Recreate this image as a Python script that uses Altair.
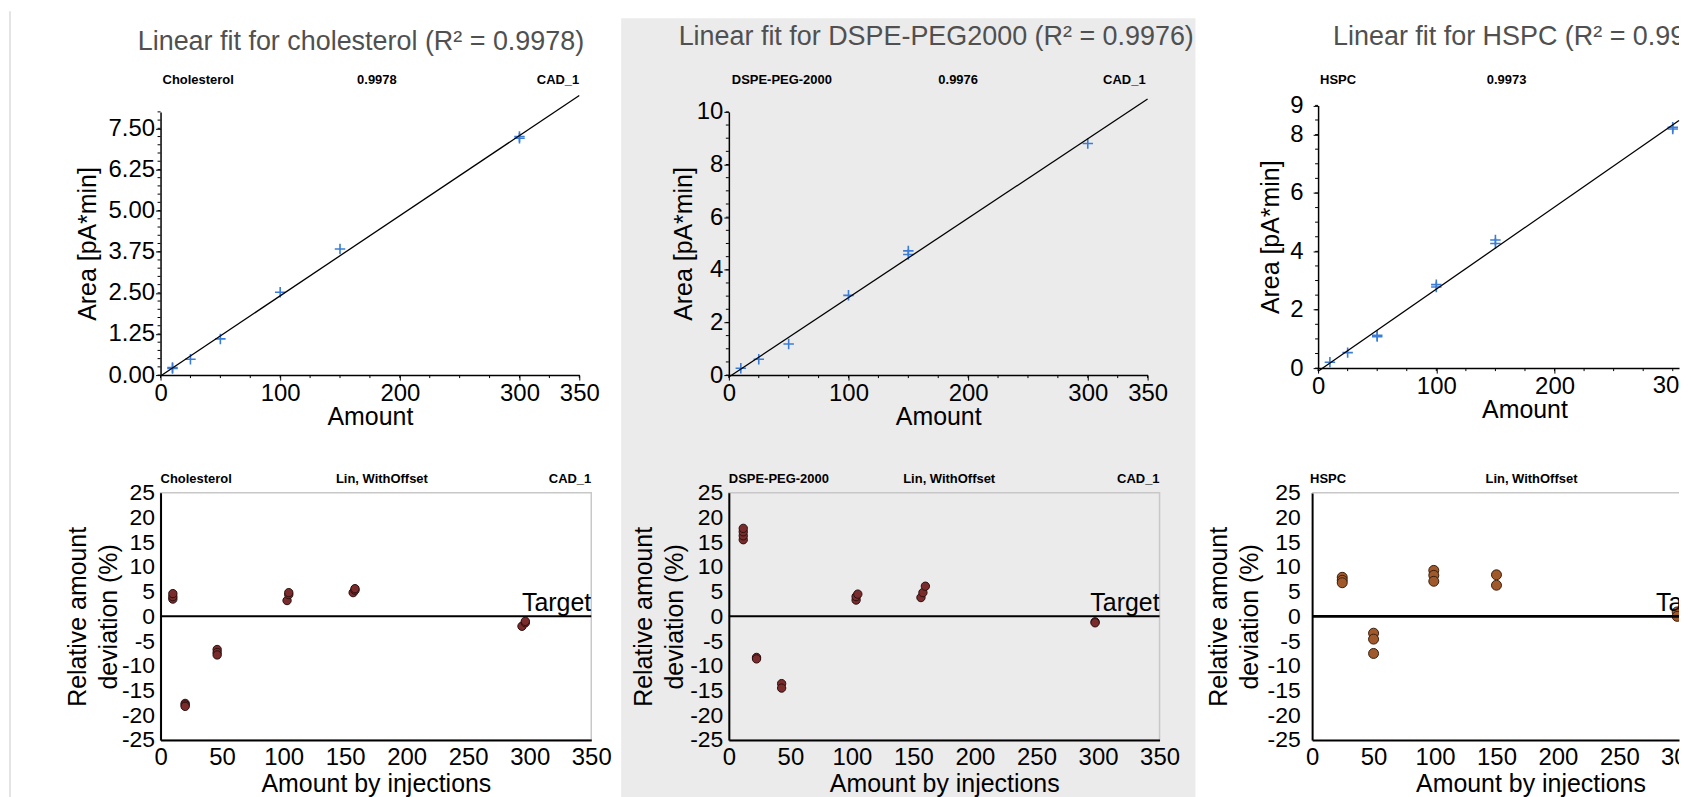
import altair as alt
import pandas as pd

FONT = "Liberation Sans"

# ---------------- data ----------------
titles = ["Linear fit for cholesterol (R\u00b2 = 0.9978)",
          "Linear fit for DSPE-PEG2000 (R\u00b2 = 0.9976)",
          "Linear fit for HSPC (R\u00b2 = 0.9973)"]
names = ["Cholesterol", "DSPE-PEG-2000", "HSPC"]
r2_text = ["0.9978", "0.9976", "0.9973"]
method_text = "Lin, WithOffset"
run_text = "CAD_1"

chol_amount = [10, 10, 25, 50, 100, 150, 300, 300]
chol_area = [0.20, 0.23, 0.48, 1.10, 2.52, 3.83, 7.20, 7.25]
dspe_amount = [10, 25, 50, 100, 150, 150, 300]
dspe_area = [0.26, 0.60, 1.18, 3.03, 4.58, 4.72, 8.80]
hspc_amount = [10, 25, 50, 50, 100, 100, 150, 150, 300, 300]
hspc_area = [0.20, 0.53, 1.08, 1.12, 2.78, 2.86, 4.27, 4.39, 8.19, 8.25]

chol_dev_x = [10, 10, 10, 20, 20, 20, 46, 46, 46, 102.8, 104.2, 104.2,
              156.5, 158, 158, 293.7, 296.4, 296.4]
chol_dev_y = [3.5, 4.0, 4.6, -17.6, -17.9, -18.2, -6.7, -7.3, -7.8, 3.2, 4.4, 4.8,
              4.8, 5.3, 5.6, -2.0, -1.3, -1.0]
dspe_dev_x = [11.7, 11.7, 11.7, 11.7, 22.5, 22.5, 42.9, 42.9, 103.4, 103.4, 104.8,
              156.1, 157.7, 159.7, 297.6, 297.6]
dspe_dev_y = [15.5, 16.3, 17.1, 17.8, -8.3, -8.6, -13.6, -14.5, 3.3, 4.0, 4.5,
              3.8, 4.8, 6.1, -1.1, -1.3]
hspc_dev_x = [24.5, 24.5, 24.5, 50, 50, 50, 99, 99, 99, 150, 150, 297, 297]
hspc_dev_y = [7.9, 7.3, 6.8, -3.4, -4.6, -7.5, 9.3, 8.3, 7.1, 8.4, 6.3, 0.9, 0.0]

# axis tick / label values
x_top_labels = [0, 100, 200, 300, 350]
x_top_minor = list(range(0, 351, 25))
x_bot_labels = list(range(0, 351, 50))
y_bot_labels = list(range(-25, 26, 5))
chol_y_labels = [0, 1.25, 2.5, 3.75, 5, 6.25, 7.5]
chol_y_minor = [i * 0.25 for i in range(33)]
dspe_y_labels = [0, 2, 4, 6, 8, 10]
dspe_y_minor = [i * 0.5 for i in range(21)]
hspc_y_labels = [0, 2, 4, 6, 8, 9]
hspc_y_minor = [i * 0.5 for i in range(19)]

# page geometry of the third (cut) column
COL3_W = 368            # visible part of column 3 (up to the page edge)
X3_TOP_MAX = 305.3      # amount at the page edge, top panel
X3_BOT_MAX = 298.5      # amount at the page edge, bottom panel

TOP_X_TITLE = "Amount"
TOP_Y_TITLE = "Area [pA*min]"
BOT_X_TITLE = "Amount by injections"
BOT_Y_TITLE = ["Relative amount", "deviation (%)"]


def one():
    return pd.DataFrame({"a": [0]})


def txt(s, x, y, size, weight="normal", align="left", color="black",
        baseline="middle", **kw):
    return alt.Chart(one()).mark_text(
        text=s, font=FONT, fontSize=size, fontWeight=weight, align=align,
        baseline=baseline, color=color, **kw
    ).encode(x=alt.value(x), y=alt.value(y))


def top_panel(amount, area, ymax, ylabels, yminor, yfmt, idx, width, view_h, yrange,
              title_spec, sub_specs, label_pad, title_pad,
              xmax=350, xrange=None, x0=0, xlabels=None, x_title_x=None,
              extra_back=None, extra_front=None):
    df = pd.DataFrame({"amount": amount, "area": area})
    xs_kw = dict(domain=[0, xmax], nice=False, zero=False)
    if xrange is not None:
        xs_kw["range"] = xrange
    xs = alt.Scale(**xs_kw)
    ys = alt.Scale(domain=[0, ymax], nice=False, zero=False, range=yrange)
    plot_b = yrange[0]
    xa_kw = dict(values=xlabels if xlabels is not None else x_top_labels,
                 labelFontSize=24, titleFontSize=25, tickSize=5, tickWidth=1,
                 domainWidth=1.5, labelPadding=1, titlePadding=0,
                 labelFlush=False, labelOverlap=False, offset=-(view_h - plot_b))
    if x_title_x is not None:
        xa_kw["titleX"] = x_title_x
    xa = alt.Axis(**xa_kw)
    ya = alt.Axis(values=ylabels, format=yfmt, labelFontSize=24, titleFontSize=25,
                  tickSize=5, tickWidth=1, domainWidth=1.5, labelPadding=label_pad,
                  titlePadding=title_pad, offset=-x0,
                  labelFlush=False, labelOverlap=False)

    def X(f):
        return alt.X(f, scale=xs, axis=xa, title=TOP_X_TITLE)

    def Y(f):
        return alt.Y(f, scale=ys, axis=ya, title=TOP_Y_TITLE)

    base = alt.Chart(df)
    pts = base.mark_point(shape="M-1,0L1,0M0,-1L0,1", filled=False, size=110,
                          strokeWidth=1.6, color="#3b7dd6", opacity=1).encode(
        x=X("amount:Q"), y=Y("area:Q"))
    reg = base.transform_regression("amount", "area", extent=[0, xmax]).mark_line(
        color="black", strokeWidth=1.3, clip=False).encode(x=X("amount:Q"), y=Y("area:Q"))
    ymin = alt.Chart(pd.DataFrame({"area": yminor})).mark_rule(
        color="black", strokeWidth=1).encode(
        y=Y("area:Q"), x=alt.value(x0 - 3), x2=alt.value(x0))
    xmin = alt.Chart(pd.DataFrame({"amount": [v for v in x_top_minor if v <= xmax]})).mark_rule(
        color="black", strokeWidth=1).encode(
        x=X("amount:Q"), y=alt.value(plot_b), y2=alt.value(plot_b + 3))
    layers = []
    if extra_back is not None:
        layers += extra_back
    layers += [pts, reg, ymin, xmin]
    tx, ty, talign, tkw = title_spec
    layers.append(txt(titles[idx], tx, ty, 27, align=talign, color="#505050", **tkw))
    for s, sx, salign in sub_specs:
        layers.append(txt(s, sx, 58, 13, "bold", salign))
    if extra_front is not None:
        layers += extra_front
    return alt.layer(*layers).properties(width=width, height=view_h)


def bottom_panel(xv, yv, idx, fill, stroke, size, zero_w, label_pad, title_pad,
                 sub_specs, width=432, height=248, xmax=350, view_h=None,
                 xlabels=None, x_title_x=None, framed=True, target_spec=None,
                 extra_front=None):
    df = pd.DataFrame({"x": xv, "y": yv})
    vh = height if view_h is None else view_h
    xs = alt.Scale(domain=[0, xmax], nice=False, zero=False, range=[0, width])
    ys = alt.Scale(domain=[-25, 25], nice=False, zero=False, range=[height, 0])
    xa_kw = dict(values=xlabels if xlabels is not None else x_bot_labels,
                 labelExpr="'' + datum.value", ticks=False,
                 labelFontSize=24, titleFontSize=25, domainWidth=2, labelPadding=6,
                 titlePadding=2, labelFlush=False, labelOverlap=False,
                 offset=-(vh - height))
    if x_title_x is not None:
        xa_kw["titleX"] = x_title_x
    xa = alt.Axis(**xa_kw)
    ya = alt.Axis(values=y_bot_labels, labelExpr="'' + datum.value", ticks=False,
                  labelFontSize=23, titleFontSize=25, domainWidth=2,
                  labelPadding=label_pad, titlePadding=title_pad, titleLineHeight=31,
                  labelFlush=False, labelOverlap=False)

    def X(f):
        return alt.X(f, scale=xs, axis=xa, title=BOT_X_TITLE)

    def Y(f):
        return alt.Y(f, scale=ys, axis=ya, title=BOT_Y_TITLE)

    pts = alt.Chart(df).mark_circle(size=size, fill=fill, stroke=stroke, strokeWidth=1,
                                    opacity=1, clip=True).encode(x=X("x:Q"), y=Y("y:Q"))
    zdf = pd.DataFrame({"y": [0]})
    zero = alt.Chart(zdf).mark_rule(color="black", strokeWidth=zero_w).encode(y=Y("y:Q"))
    if target_spec is None:
        target_spec = (width, "right")
    target = alt.Chart(zdf).mark_text(text="Target", font=FONT, fontSize=25,
                                      align=target_spec[1], baseline="alphabetic",
                                      dy=-5, color="black", clip=True).encode(
        x=alt.value(target_spec[0]), y=Y("y:Q"))
    layers = [pts]
    if not framed:
        layers.append(alt.Chart(one()).mark_rule(color="#c8c8c8", strokeWidth=1.5).encode(
            x=alt.value(0), x2=alt.value(width), y=alt.value(0)))
    layers += [zero, target]
    for s, sx, salign in sub_specs:
        layers.append(txt(s, sx, -14, 13, "bold", salign))
    if extra_front is not None:
        layers += extra_front
    view = (alt.ViewBackground(stroke="#c8c8c8", strokeWidth=1.5) if framed
            else alt.ViewBackground(stroke="transparent"))
    return alt.layer(*layers).properties(width=width, height=vh, view=view)


# decorations: page edge line and grey band behind column 2 (both in panel 1)
edge = alt.Chart(one()).mark_rule(color="#e4e4e4", strokeWidth=2).encode(
    x=alt.value(-151), y=alt.value(-11), y2=alt.value(780))
band = alt.Chart(one()).mark_rect(color="#ebebeb", clip=False).encode(
    x=alt.value(462), x2=alt.value(1038), y=alt.value(-4), y2=alt.value(780))

t1 = top_panel(chol_amount, chol_area, 8, chol_y_labels, chol_y_minor, ".2f", 0,
               420, 354, [354, 90],
               (201, 20, "center", {}),
               [(names[0], 2, "left"), (r2_text[0], 217, "center"), (run_text, 420, "right")],
               1, 8, extra_back=[band, edge])
t2 = top_panel(dspe_amount, dspe_area, 10, dspe_y_labels, dspe_y_minor, "d", 1,
               447, 354, [354, 90],
               (208, 15, "center", {}),
               [(names[1], 3, "left"), (r2_text[1], 230, "center"), (run_text, 418, "right")],
               1, 0, xrange=[0, 420])

# column 3 is cut by the page edge: its views stop at the edge and clip their texts
x3_300_top = alt.Chart(one()).mark_text(text="300", font=FONT, fontSize=24, align="center",
                                        baseline="top", clip=True).encode(
    x=alt.XDatum(300, title=TOP_X_TITLE), y=alt.value(347 + 6))
t3 = top_panel(hspc_amount, hspc_area, 9, hspc_y_labels, hspc_y_minor, "d", 2,
               COL3_W, 387, [347, 83.5],
               (21, 15, "left", {"clip": True}),
               [(names[2], 8, "left"), (r2_text[2], 195, "center")],
               10, 6, xmax=X3_TOP_MAX, xrange=[6, COL3_W], x0=6,
               xlabels=[0, 100, 200], x_title_x=213, extra_front=[x3_300_top])

b1 = bottom_panel(chol_dev_x, chol_dev_y, 0, "#7a2c2c", "#2a0e0e", 70, 2, 6, 0,
                  [(names[0], 0, "left"), (method_text, 222, "center"), (run_text, 432, "right")])
b2 = bottom_panel(dspe_dev_x, dspe_dev_y, 1, "#7a2c2c", "#2a0e0e", 70, 2, 6, 2,
                  [(names[1], 0, "left"), (method_text, 221, "center"), (run_text, 432, "right")])
x3_300_bot = alt.Chart(one()).mark_text(text="300", font=FONT, fontSize=24, align="center",
                                        baseline="top", clip=True).encode(
    x=alt.XDatum(300, title=BOT_X_TITLE), y=alt.value(248 + 6))
b3 = bottom_panel(hspc_dev_x, hspc_dev_y, 2, "#a0592b", "#3a1e0c", 100, 3, 12, 5,
                  [(names[2], -2, "left"), (method_text, 220, "center")],
                  width=COL3_W, height=248, xmax=X3_BOT_MAX, view_h=290,
                  xlabels=[0, 50, 100, 150, 200, 250], x_title_x=219, framed=False,
                  target_spec=(345, "left"), extra_front=[x3_300_bot])

chart = alt.concat(t1, t2, t3, b1, b2, b3, columns=3,
                   spacing={"row": 85, "column": 138},
                   bounds="flush", align="each").properties(padding=0)

chart = chart.configure(font=FONT).configure_view(stroke="transparent").configure_axis(
    grid=False, labelColor="black", titleColor="black", domainColor="black",
    tickColor="black", titleFontWeight="normal", labelFont=FONT, titleFont=FONT)

chart.save("out.html", embed_options={"renderer": "svg", "actions": False})
